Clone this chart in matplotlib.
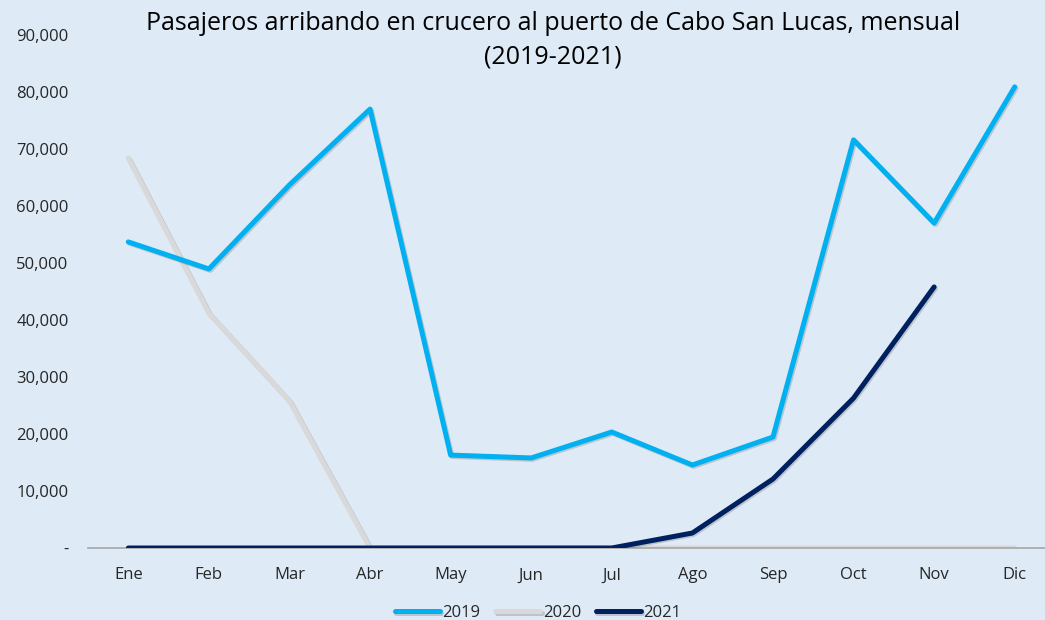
import matplotlib
matplotlib.use("Agg")
import matplotlib.pyplot as plt
import matplotlib.patheffects as pe
import numpy as np

months = ["Ene", "Feb", "Mar", "Abr", "May", "Jun", "Jul", "Ago", "Sep", "Oct", "Nov", "Dic"]
s2019 = [53700, 48950, 63700, 77000, 16300, 15800, 20350, 14560, 19470, 71600, 57000, 80900]
s2020 = [68400, 41200, 25800, 0, 0, 0, 0, 0, 0, 0, 0, 0]
s2021 = [0, 0, 0, 0, 0, 0, 0, 2630, 12100, 26300, 45800]
yticks = [0, 10000, 20000, 30000, 40000, 50000, 60000, 70000, 80000, 90000]
ytick_labels = ["-", "10,000", "20,000", "30,000", "40,000", "50,000", "60,000", "70,000", "80,000", "90,000"]

bg = "#deeaf6"
plt.rcParams['font.family'] = ['Open Sans', 'DejaVu Sans']

fig = plt.figure(figsize=(10.45, 6.2), dpi=100, facecolor=bg)
W, H = 1045, 620
left, right, top, bottom = 88, 1055, 35, 548
ax = fig.add_axes([left / W, 1 - bottom / H, (right - left) / W, (bottom - top) / H])
ax.set_facecolor(bg)

x = np.arange(len(months))
shadow = [pe.SimpleLineShadow(offset=(1, -1), alpha=0.25, shadow_color='#555555'), pe.Normal()]
l1, = ax.plot(x, s2019, color="#00b0f0", lw=3.6, solid_capstyle='round', solid_joinstyle='round',
              path_effects=shadow, label="2019", zorder=3)
l2, = ax.plot(x, s2020, color="#d9d9d9", lw=3.6, solid_capstyle='round', solid_joinstyle='round',
              path_effects=shadow, label="2020", zorder=2)
l3, = ax.plot(x[:len(s2021)], s2021, color="#002060", lw=3.6, solid_capstyle='round', solid_joinstyle='round',
              path_effects=shadow, label="2021", zorder=4)

ax.set_xlim(-0.5, 11.5)
ax.set_ylim(0, 90000)
ax.set_yticks(yticks)
ax.set_yticklabels(ytick_labels)
ax.set_xticks(x)
ax.set_xticklabels(months)
for s in ["top", "right", "left"]:
    ax.spines[s].set_visible(False)
ax.spines["bottom"].set_color("#a6a6a6")
ax.spines["bottom"].set_linewidth(1.2)
ax.tick_params(axis='both', length=0, labelsize=12, colors="#262626")
ax.tick_params(axis='x', pad=14)
ax.tick_params(axis='y', pad=14)
for lbl in ax.get_yticklabels():
    lbl.set_ha('right')

fig.text(553 / W, 1 - 40 / H,
         "Pasajeros arribando en crucero al puerto de Cabo San Lucas, mensual\n(2019-2021)",
         ha='center', va='center', fontsize=18, color="#000000", linespacing=1.45)

leg = fig.legend(handles=[l1, l2, l3], loc='center', bbox_to_anchor=(538 / W, 1 - 613 / H),
                 ncol=3, frameon=False, fontsize=12, handlelength=2.7, handletextpad=0.15,
                 columnspacing=0.9)
for t in leg.get_texts():
    t.set_color("#262626")

fig.savefig("out.png", dpi=100, facecolor=bg)
